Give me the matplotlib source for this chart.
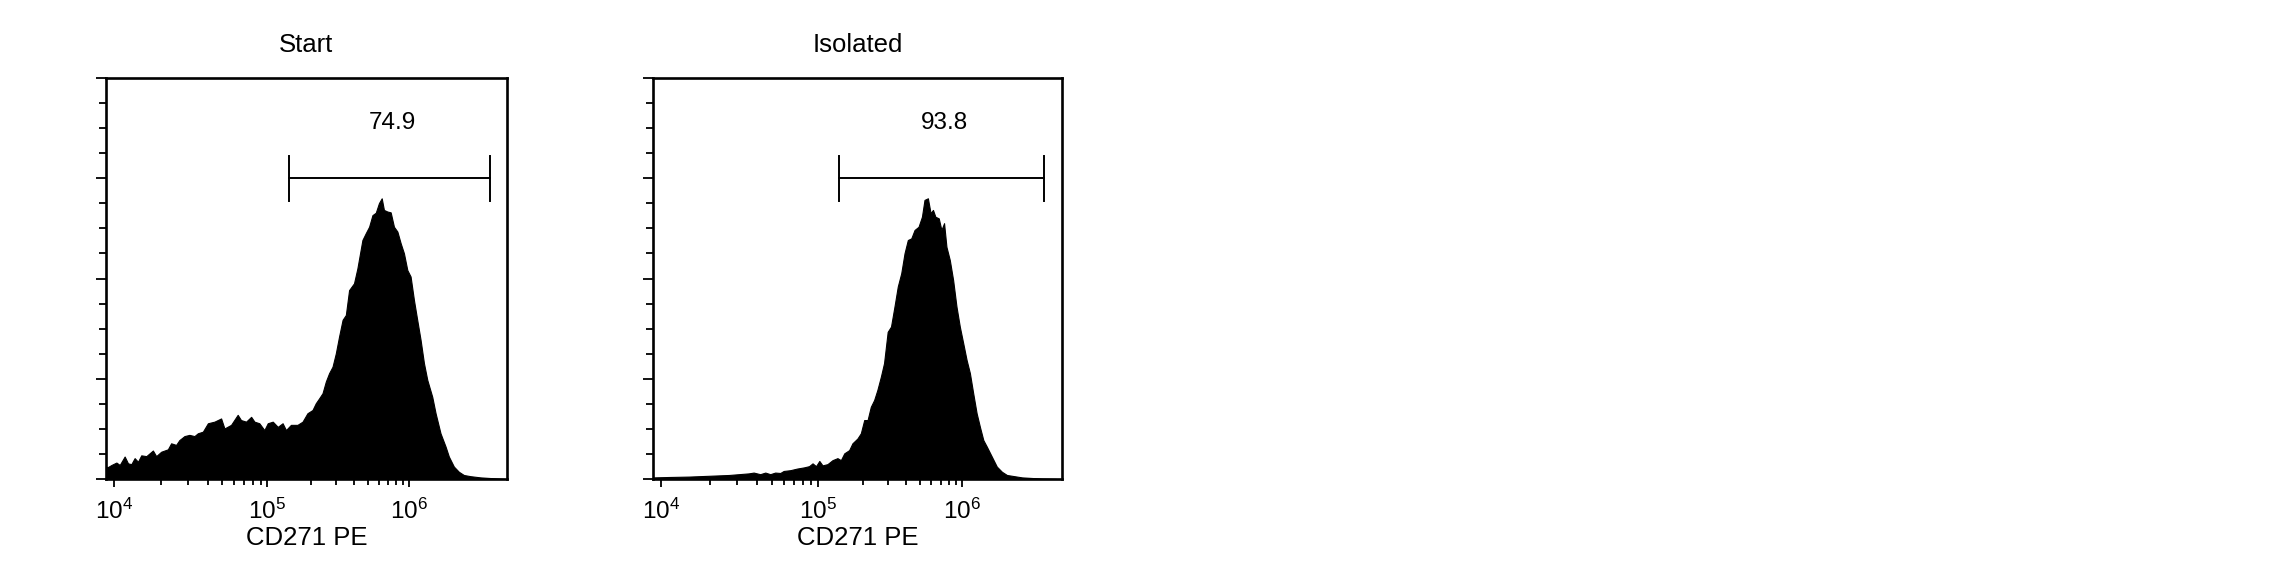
import numpy as np
import matplotlib
matplotlib.use("Agg")
import matplotlib.pyplot as plt
from matplotlib.ticker import FixedLocator, NullFormatter

plt.rcParams['font.family'] = ['Liberation Sans', 'DejaVu Sans']
plt.rcParams['mathtext.default'] = 'regular'

# ------------------------------ dane ------------------------------
# os X: log10(intensywnosc CD271 PE), os Y: liczba zdarzen (ulamek maksimum osi)
start_exp = [3.93, 3.965, 3.986, 4.017, 4.038, 4.069, 4.090, 4.111, 4.132, 4.153, 4.174,
             4.206, 4.248, 4.269, 4.301, 4.344, 4.365, 4.397, 4.418, 4.451, 4.483,
             4.516, 4.538, 4.571, 4.604, 4.647, 4.691, 4.713, 4.757, 4.801, 4.823,
             4.857, 4.891, 4.913, 4.946, 4.980, 5.003, 5.037, 5.071, 5.104, 5.127,
             5.161, 5.206, 5.241, 5.275, 5.310, 5.333, 5.356, 5.380, 5.403, 5.426,
             5.450, 5.473, 5.496, 5.521, 5.544, 5.567, 5.602, 5.626, 5.662, 5.686,
             5.710, 5.734, 5.758, 5.781, 5.801, 5.817, 5.842, 5.866, 5.890, 5.915,
             5.939, 5.963, 5.988, 6.012, 6.037, 6.061, 6.086, 6.111, 6.136, 6.173,
             6.198, 6.235, 6.273, 6.298, 6.336, 6.374, 6.412, 6.463, 6.540, 6.636, 6.73]
start_count = [0.030, 0.030, 0.035, 0.041, 0.035, 0.056, 0.039, 0.037, 0.052, 0.043, 0.059,
               0.057, 0.071, 0.057, 0.068, 0.074, 0.089, 0.085, 0.097, 0.107, 0.110,
               0.107, 0.114, 0.118, 0.139, 0.143, 0.151, 0.126, 0.135, 0.160, 0.147,
               0.143, 0.155, 0.143, 0.139, 0.122, 0.139, 0.143, 0.130, 0.139, 0.122,
               0.135, 0.135, 0.143, 0.164, 0.172, 0.189, 0.201, 0.214, 0.243, 0.264,
               0.280, 0.313, 0.355, 0.397, 0.409, 0.471, 0.488, 0.525, 0.596, 0.613,
               0.629, 0.658, 0.664, 0.688, 0.700, 0.671, 0.667, 0.665, 0.629, 0.617,
               0.588, 0.563, 0.521, 0.505, 0.446, 0.397, 0.347, 0.289, 0.247, 0.205,
               0.164, 0.114, 0.081, 0.056, 0.031, 0.018, 0.010, 0.007, 0.004, 0.002, 0.0]

isolated_exp = [3.93, 3.955, 4.048, 4.171, 4.297, 4.423, 4.549, 4.581, 4.623, 4.656, 4.688,
                4.720, 4.753, 4.775, 4.819, 4.863, 4.909, 4.942, 4.965, 4.988, 5.010,
                5.031, 5.064, 5.098, 5.131, 5.154, 5.177, 5.210, 5.232, 5.266, 5.289,
                5.312, 5.335, 5.357, 5.380, 5.402, 5.426, 5.448, 5.473, 5.496, 5.520,
                5.543, 5.567, 5.590, 5.613, 5.637, 5.660, 5.688, 5.712, 5.730, 5.754,
                5.773, 5.790, 5.807, 5.831, 5.850, 5.869, 5.886, 5.910, 5.934, 5.958,
                5.982, 6.007, 6.031, 6.055, 6.079, 6.104, 6.128, 6.153, 6.178, 6.215,
                6.252, 6.290, 6.327, 6.440, 6.592, 6.70]
isolated_count = [0.004, 0.004, 0.005, 0.006, 0.008, 0.010, 0.014, 0.016, 0.012, 0.016, 0.012,
                  0.016, 0.015, 0.020, 0.022, 0.026, 0.029, 0.032, 0.039, 0.032, 0.045,
                  0.034, 0.037, 0.047, 0.052, 0.047, 0.064, 0.072, 0.089, 0.101, 0.114,
                  0.147, 0.147, 0.180, 0.197, 0.222, 0.255, 0.289, 0.367, 0.380, 0.430,
                  0.480, 0.513, 0.563, 0.596, 0.600, 0.621, 0.629, 0.654, 0.696, 0.700,
                  0.663, 0.671, 0.654, 0.650, 0.621, 0.638, 0.579, 0.546, 0.496, 0.430,
                  0.380, 0.338, 0.297, 0.264, 0.214, 0.164, 0.130, 0.097, 0.081, 0.056,
                  0.031, 0.018, 0.010, 0.004, 0.001, 0.0]

titles = ['Start', 'Isolated']
gate_labels = ['74.9', '93.8']
gate_exp = [(5.148, 6.615), (5.139, 6.607)]
x_label = 'CD271 PE'
decades = [4, 5, 6]


def fwd(x):
    L = np.log10(np.maximum(x, 1e-12)) - 4
    return 160 * L - 6 * L ** 2


def inv(t):
    L = (160 - np.sqrt(np.maximum(25600 - 24 * np.asarray(t, dtype=float), 0))) / 12
    return 10 ** (L + 4)


fig = plt.figure(figsize=(22.92, 5.84), dpi=100)
positions = [[106 / 2292, 105 / 584, 400.7 / 2292, 401 / 584],
             [653.3 / 2292, 105 / 584, 408.7 / 2292, 401 / 584]]
data = [(start_exp, start_count), (isolated_exp, isolated_count)]

for i in range(2):
    ax = fig.add_axes(positions[i])
    xs = 10 ** np.array(data[i][0])
    ys = np.array(data[i][1])
    ax.set_xscale('function', functions=(fwd, inv))
    ax.fill_between(xs, ys, 0, color='black', linewidth=0.8)

    ax.set_xlim(10 ** 3.952, 10 ** 6.745)
    ax.set_ylim(0, 1)

    # bramka
    g0, g1 = 10 ** gate_exp[i][0], 10 ** gate_exp[i][1]
    ax.plot([g0, g1], [0.75, 0.75], color='black', lw=1.4)
    ax.plot([g0, g0], [0.694, 0.806], color='black', lw=1.4)
    ax.plot([g1, g1], [0.694, 0.806], color='black', lw=1.4)
    gm = 10 ** ((gate_exp[i][0] + gate_exp[i][1]) / 2)
    ax.text(gm, 0.873, gate_labels[i], ha='center', va='baseline', fontsize=17.5)

    # znaczniki osi
    ax.xaxis.set_major_locator(FixedLocator([10.0 ** d for d in decades]))
    ax.set_xticklabels([r'$\mathregular{10^{%d}}$' % d for d in decades], fontsize=17.5)
    minors = [m * 10.0 ** d for d in decades[:-1] for m in range(2, 10)]
    ax.xaxis.set_minor_locator(FixedLocator(minors))
    ax.xaxis.set_minor_formatter(NullFormatter())
    ax.yaxis.set_major_locator(FixedLocator([0, 0.25, 0.5, 0.75, 1.0]))
    ax.yaxis.set_minor_locator(FixedLocator([k / 16 for k in range(17)]))
    ax.set_yticklabels([])
    ax.tick_params(axis='x', which='major', length=6, width=1.3, pad=8)
    ax.tick_params(axis='x', which='minor', length=4.5, width=1.3)
    ax.tick_params(axis='y', which='major', length=7, width=1.3)
    ax.tick_params(axis='y', which='minor', length=5, width=1.3)
    for s in ax.spines.values():
        s.set_linewidth(1.9)

    ax.set_title(titles[i], fontsize=18.5, pad=19)
    ax.set_xlabel(x_label, fontsize=18.5, labelpad=1.5)

plt.savefig("out.png", dpi=100)
plt.close()
